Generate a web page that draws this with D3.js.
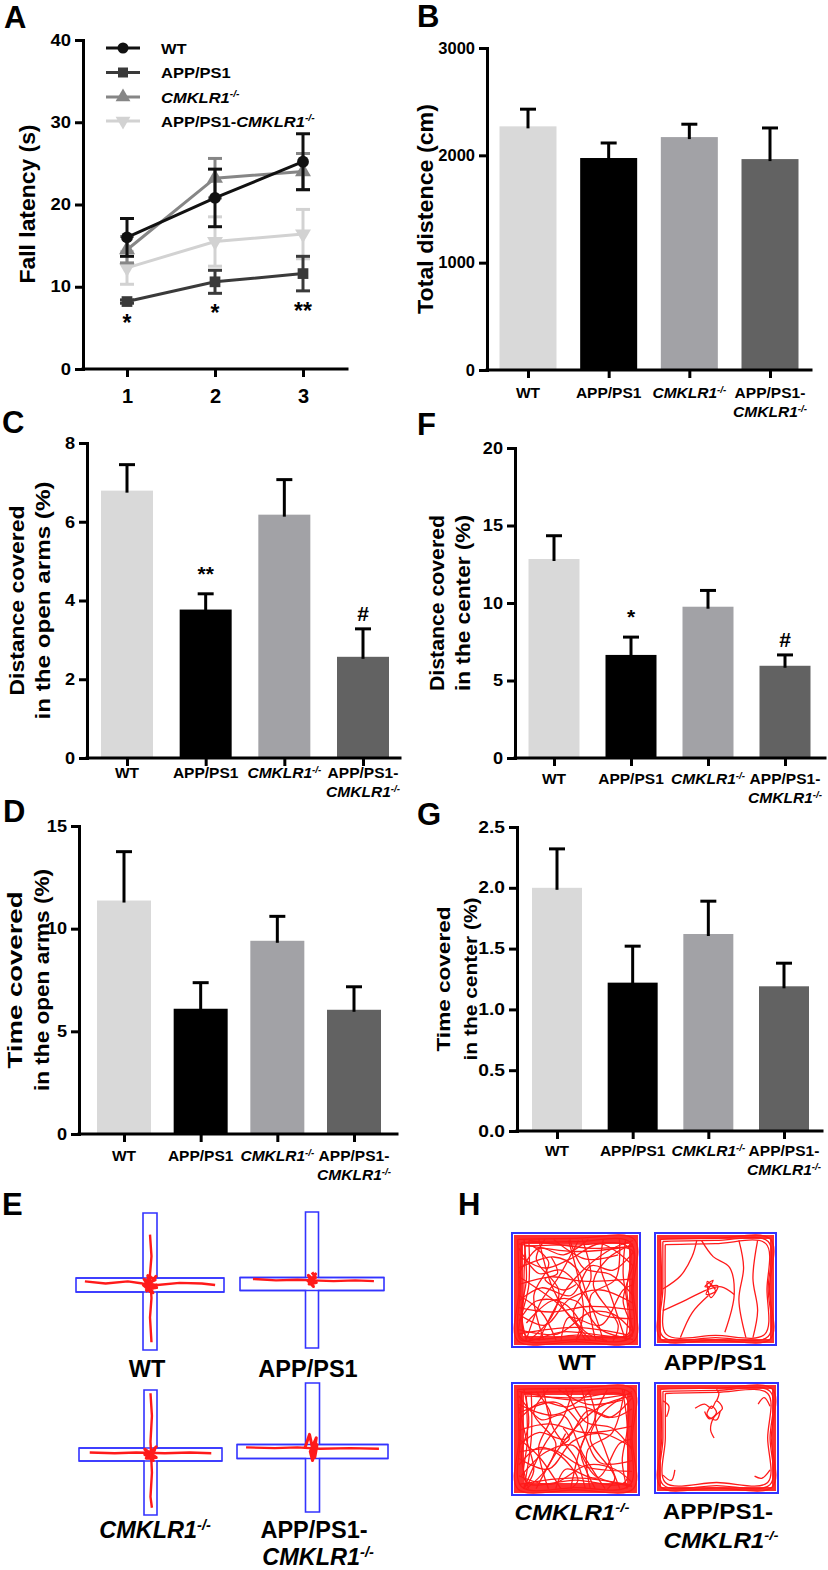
<!DOCTYPE html>
<html><head><meta charset="utf-8">
<script src="https://cdn.jsdelivr.net/npm/d3@7"></script>
<style>
body{margin:0;background:#fff}
svg{display:block}
text{font-family:"Liberation Sans",Arial,Helvetica,sans-serif;font-weight:bold;fill:#000}
</style>
</head><body>
<svg id="fig" width="828" height="1570"></svg>
<script>
// ---------------- DATA ----------------
const groups = ["WT", "APP/PS1", "CMKLR1", "APP/PS1-CMKLR1"];
const days = [1, 2, 3];

// A: rotarod fall latency (s)
const fallWT = [16.0, 20.8, 25.2];
const fallWTErr = [2.3, 3.5, 3.4];
const fallAPP = [8.2, 10.6, 11.6];
const fallAPPErr = [0.2, 1.4, 2.1];
const fallCMK = [14.5, 23.2, 24.0];
const fallCMKErr = [1.6, 2.4, 2.2];
const fallDKO = [12.3, 15.5, 16.4];
const fallDKOErr = [2.0, 3.0, 3.0];
const fallSig = ["*", "*", "**"];
const fallTicks = [0, 10, 20, 30, 40];

// B: total distance (cm)
const totalDist = [2270, 1975, 2170, 1965];
const totalDistErr = [160, 140, 120, 290];
const totalDistTicks = [0, 1000, 2000, 3000];

// C: distance covered in open arms (%)
const distOpen = [6.79, 3.77, 6.18, 2.57];
const distOpenErr = [0.66, 0.40, 0.89, 0.71];
const distOpenSig = ["", "**", "", "#"];
const distOpenTicks = [0, 2, 4, 6, 8];

// F: distance covered in the center (%)
const distCenter = [12.84, 6.65, 9.76, 5.95];
const distCenterErr = [1.5, 1.15, 1.05, 0.7];
const distCenterSig = ["", "*", "", "#"];
const distCenterTicks = [0, 5, 10, 15, 20];

// D: time covered in open arms (%)
const timeOpen = [11.37, 6.1, 9.41, 6.05];
const timeOpenErr = [2.38, 1.27, 1.19, 1.12];
const timeOpenTicks = [0, 5, 10, 15];

// G: time covered in the center (%)
const timeCenter = [2.0, 1.22, 1.62, 1.19];
const timeCenterErr = [0.32, 0.30, 0.27, 0.19];
const timeCenterTicks = [0, 0.5, 1.0, 1.5, 2.0, 2.5];

// E: elevated plus maze traces (normalized arm units)
const mazeWT = [
  [[-0.88,-0.05],[-0.6,-0.02],[-0.3,-0.05],[-0.1,-0.02],[0.1,0.0],[0.4,-0.03],[0.7,-0.02],[0.88,0.0]],
  [[0.0,-0.7],[0.02,-0.4],[0.0,-0.15],[0.02,0.2],[0.0,0.5],[0.02,0.88]],
  [[0,-0.02],[0.08,-0.12],[-0.05,0.06],[0.09,0.04],[-0.08,-0.08],[0.04,0.12],[-0.09,0.0],[0.07,-0.07],[-0.03,-0.13],[0.0,0.1],[0.09,0.0],[-0.06,0.1]]
];
const mazeAPP = [
  [[-0.82,-0.07],[-0.5,-0.05],[-0.2,-0.06],[0.0,-0.05],[0.3,-0.04],[0.6,-0.05],[0.86,-0.04]],
  [[0.0,-0.06],[0.05,-0.14],[-0.04,0.0],[0.06,-0.02],[-0.05,-0.12],[0.02,0.04],[-0.06,-0.05],[0.05,-0.09],[0.0,-0.16]]
];
const mazeCMK = [
  [[-0.85,-0.03],[-0.5,-0.02],[-0.2,-0.03],[0.2,-0.02],[0.55,-0.03],[0.85,-0.02]],
  [[0.0,-0.95],[0.02,-0.6],[0.0,-0.2],[0.02,0.3],[0.0,0.7],[0.02,0.88]],
  [[0,-0.03],[0.08,-0.12],[-0.06,0.06],[0.08,0.05],[-0.08,-0.08],[0.04,0.1],[-0.08,0.0],[0.06,-0.08],[0.0,0.08]]
];
const mazeDKO = [
  [[-0.88,-0.06],[-0.5,-0.05],[-0.2,-0.06],[0.1,-0.04],[0.5,-0.05],[0.88,-0.04]],
  [[-0.1,-0.05],[-0.04,-0.25],[0.0,-0.05],[0.03,0.1],[0.06,-0.1],[0.0,0.15],[-0.03,0.0],[0.05,-0.2],[0.02,0.05]]
];

// H: open field traces (normalized box units)
const fieldWT = [
  [[.03,.04],[.5,.03],[.97,.04],[.96,.5],[.97,.96],[.5,.97],[.03,.96],[.04,.5],[.03,.04]],
  [[.06,.07],[.5,.06],[.94,.07],[.95,.5],[.94,.93],[.5,.95],[.06,.94],[.05,.5],[.06,.07]],
  [[.09,.1],[.5,.09],[.92,.11],[.91,.5],[.92,.9],[.5,.91],[.1,.92],[.08,.5],[.09,.1]],
  [[.12,.05],[.6,.12],[.96,.15],[.88,.6],[.95,.9],[.4,.88],[.05,.95],[.12,.45],[.12,.05]],
  [[.05,.2],[.25,.3],[.45,.22],[.7,.08],[.96,.28]],
  [[.1,.95],[.22,.6],[.35,.4],[.52,.05]],
  [[.2,.04],[.3,.45],[.42,.7],[.62,.96]],
  [[.96,.62],[.7,.5],[.45,.58],[.25,.82],[.04,.72]],
  [[.04,.45],[.3,.38],[.55,.42],[.96,.4]],
  [[.5,.96],[.56,.7],[.52,.4],[.44,.05]],
  [[.04,.86],[.35,.9],[.62,.7],[.8,.72],[.96,.88]],
  [[.72,.04],[.7,.3],[.78,.55],[.9,.96]],
  [[.15,.1],[.28,.25],[.16,.55],[.24,.95]],
  [[.96,.16],[.8,.32],[.62,.28],[.46,.55],[.22,.48],[.04,.6]],
  [[.32,.04],[.58,.22],[.84,.18]],
  [[.04,.3],[.32,.2],[.5,.3],[.66,.7],[.96,.76]],
  [[.38,.96],[.44,.75],[.7,.82],[.88,.5],[.96,.45]],
  [[.04,.55],[.22,.7],[.34,.96]],
  [[.6,.04],[.4,.18],[.2,.12],[.04,.35]],
  [[.85,.04],[.82,.4],[.62,.55],[.66,.96]],
  [[.04,.12],[.2,.35],[.38,.32],[.6,.6],[.72,.96]],
  [[.96,.08],[.75,.22],[.64,.45],[.84,.82],[.8,.96]],
  [[.04,.78],[.18,.6],[.4,.62],[.55,.85],[.5,.96]],
  [[.25,.04],[.18,.22],[.36,.5],[.3,.75],[.12,.96]],
  [[.45,.04],[.56,.3],[.78,.36],[.96,.55]],
  [[.96,.95],[.7,.86],[.5,.6],[.3,.6],[.1,.8]],
  [[.04,.66],[.3,.7],[.6,.65],[.96,.68]],
  [[.55,.04],[.62,.4],[.48,.7],[.58,.96]],
  [[.08,.04],[.1,.4],[.06,.7],[.1,.96]],
  [[.9,.04],[.88,.35],[.92,.7],[.9,.96]],
  [[.04,.9],[.5,.84],[.96,.92]],
  [[.04,.08],[.5,.15],[.96,.1]],
  [[.2,.96],[.45,.45],[.75,.15],[.96,.05]],
  [[.04,.38],[.35,.62],[.6,.9],[.75,.96]],
  [[.3,.2],[.35,.35],[.25,.4],[.4,.5],[.5,.45]]
];
const fieldCMK = [
  [[.03,.04],[.5,.03],[.97,.04],[.96,.5],[.97,.96],[.5,.97],[.03,.96],[.04,.5],[.03,.04]],
  [[.06,.07],[.5,.06],[.94,.07],[.95,.5],[.94,.93],[.5,.95],[.06,.94],[.05,.5],[.06,.07]],
  [[.1,.1],[.5,.12],[.9,.1],[.92,.5],[.9,.9],[.5,.88],[.1,.9],[.11,.5],[.1,.1]],
  [[.14,.06],[.14,.5],[.08,.96]],
  [[.04,.18],[.3,.28],[.55,.2],[.8,.3],[.96,.22]],
  [[.08,.96],[.25,.55],[.4,.3],[.48,.04]],
  [[.24,.04],[.32,.4],[.5,.68],[.58,.96]],
  [[.96,.58],[.72,.45],[.48,.52],[.28,.78],[.04,.68]],
  [[.04,.42],[.28,.36],[.58,.44],[.96,.38]],
  [[.46,.96],[.52,.66],[.6,.36],[.55,.04]],
  [[.04,.84],[.3,.92],[.6,.74],[.82,.78],[.96,.9]],
  [[.76,.04],[.66,.32],[.74,.6],[.86,.96]],
  [[.18,.06],[.3,.28],[.2,.58],[.28,.96]],
  [[.96,.12],[.78,.3],[.6,.24],[.42,.5],[.2,.44],[.04,.56]],
  [[.36,.04],[.6,.18],[.88,.14]],
  [[.04,.26],[.34,.16],[.52,.34],[.7,.72],[.96,.7]],
  [[.34,.96],[.42,.78],[.68,.86],[.86,.54],[.96,.5]],
  [[.04,.5],[.2,.66],[.38,.96]],
  [[.64,.04],[.44,.2],[.22,.16],[.04,.32]],
  [[.9,.04],[.8,.44],[.6,.6],[.62,.96]],
  [[.04,.1],[.22,.32],[.4,.28],[.56,.64],[.74,.96]],
  [[.96,.06],[.72,.26],[.62,.5],[.82,.86],[.76,.96]],
  [[.04,.74],[.2,.58],[.36,.64],[.52,.88],[.46,.96]],
  [[.28,.04],[.16,.26],[.34,.54],[.26,.78],[.1,.96]],
  [[.42,.04],[.58,.34],[.8,.4],[.96,.6]],
  [[.96,.94],[.66,.84],[.48,.56],[.26,.62],[.06,.84]],
  [[.4,.4],[.45,.5],[.38,.55],[.42,.45]],
  [[.08,.04],[.12,.35],[.06,.65],[.12,.96]],
  [[.04,.2],[.1,.5],[.16,.8],[.08,.96]],
  [[.88,.04],[.92,.4],[.88,.7],[.92,.96]],
  [[.04,.92],[.5,.86],[.96,.93]],
  [[.04,.06],[.5,.14],[.96,.08]],
  [[.04,.62],[.32,.6],[.55,.75],[.96,.8]],
  [[.18,.96],[.42,.5],[.7,.2],[.96,.1]],
  [[.6,.04],[.66,.3],[.54,.6],[.66,.96]]
];
const fieldAPP = [
  [[.03,.04],[.5,.03],[.97,.04],[.96,.5],[.97,.96],[.5,.97],[.03,.96],[.04,.5],[.03,.04]],
  [[.05,.06],[.5,.05],[.95,.06],[.95,.5],[.95,.94],[.5,.95],[.05,.94],[.05,.5],[.05,.06]],
  [[.07,.09],[.5,.08],[.93,.08],[.94,.5],[.92,.92],[.5,.93],[.08,.92],[.07,.5],[.07,.09]],
  [[.38,.05],[.48,.2],[.62,.3],[.66,.55],[.58,.9]],
  [[.7,.05],[.74,.3],[.7,.6],[.76,.95]],
  [[.05,.5],[.2,.38],[.3,.2],[.34,.05]],
  [[.05,.7],[.25,.6],[.4,.52],[.45,.5]],
  [[.86,.05],[.82,.4],[.86,.7],[.82,.95]],
  [[.45,.5],[.55,.48],[.66,.55]],
  [[.2,.95],[.3,.72],[.44,.56]],
  [[.45,.45],[.5,.52],[.42,.55],[.48,.42],[.41,.48],[.52,.47],[.46,.58],[.43,.43],[.5,.5]]
];
const fieldDKO = [
  [[.03,.04],[.5,.03],[.97,.04],[.96,.5],[.97,.96],[.5,.97],[.03,.96],[.04,.5],[.03,.04]],
  [[.05,.06],[.5,.05],[.95,.06],[.95,.5],[.95,.94],[.5,.95],[.05,.94],[.05,.5],[.05,.06]],
  [[.07,.08],[.5,.07],[.93,.08],[.93,.5],[.93,.92],[.5,.92],[.07,.92],[.07,.5],[.07,.08]],
  [[.32,.22],[.4,.18],[.46,.22],[.5,.15],[.55,.22],[.48,.3],[.45,.42],[.48,.5]],
  [[.4,.25],[.44,.32],[.5,.26],[.46,.2],[.42,.28],[.5,.33],[.53,.25]],
  [[.5,.15],[.52,.08],[.5,.04]],
  [[.05,.85],[.12,.9],[.15,.8]],
  [[.95,.8],[.88,.88],[.82,.86]],
  [[.95,.2],[.9,.12],[.85,.18]],
  [[.05,.15],[.1,.2],[.08,.3]]
];

// ---------------- STYLE / LAYOUT ----------------
const lineColors = ["#111111", "#3a3a3a", "#868686", "#d2d2d2"];
const barColors = ["#d9d9d9", "#000000", "#a2a2a6", "#626262"];
const symbols = [d3.symbolCircle, d3.symbolSquare, d3.symbolTriangle, d3.symbolTriangle];
const blue = "#3333ff", red = "#ff1a1a";

const svg = d3.select("#fig");

function stretch(sel, sx) {
  if (!sx || sx === 1) return;
  sel.each(function () {
    const w = this.getComputedTextLength();
    d3.select(this).attr("textLength", w * sx).attr("lengthAdjust", "spacingAndGlyphs");
  });
}
function addText(g, x, y, parts, o = {}) {
  const t = g.append("text").attr("x", x).attr("y", y)
    .attr("font-size", o.size || 14)
    .attr("text-anchor", o.anchor || "middle");
  parts.forEach(p => {
    const ts = t.append("tspan").text(p.t);
    if (p.italic) ts.attr("font-style", "italic");
    if (p.sup) ts.attr("font-size", "0.62em").attr("dy", "-0.55em");
  });
  if (o.sx) stretch(t, o.sx);
  return t;
}
const sup = [{t: "CMKLR1", italic: true}, {t: "-/-", italic: true, sup: true}];
const groupLines = {
  "WT": [[{t: "WT"}]],
  "APP/PS1": [[{t: "APP/PS1"}]],
  "CMKLR1": [sup],
  "APP/PS1-CMKLR1": [[{t: "APP/PS1-"}], sup]
};

function panelLetter(letter, x, y) {
  svg.append("text").attr("x", x).attr("y", y).attr("font-size", 31).text(letter);
}
function yLabel(g, lines, xs, cy, size, lens) {
  lines.forEach((s, i) => {
    const t = g.append("text")
      .attr("transform", `translate(${xs[i]},${cy}) rotate(-90)`)
      .attr("text-anchor", "middle").attr("dy", "0.35em")
      .attr("font-size", size).text(s);
    if (lens && lens[i]) t.attr("textLength", lens[i]).attr("lengthAdjust", "spacingAndGlyphs");
  });
}
function styleAxis(ax, size) {
  ax.attr("font-family", null).attr("font-size", size);
  ax.selectAll("path.domain").attr("stroke", "#000").attr("stroke-width", 3).attr("stroke-linecap", "square");
  ax.selectAll(".tick line").attr("stroke", "#000").attr("stroke-width", 3);
  ax.selectAll(".tick text").attr("fill", "#000");
}

// ---------------- PANEL A (line chart) ----------------
(function () {
  const g = svg.append("g");
  const x = d3.scaleLinear().domain([0.5, 3.5]).range([83, 347]);
  const y = d3.scaleLinear().domain([0, 40]).range([369, 40]);
  const ya = g.append("g").attr("transform", "translate(83,0)")
    .call(d3.axisLeft(y).tickValues(fallTicks).tickSize(8).tickPadding(4).tickSizeOuter(0));
  styleAxis(ya, 16); stretch(ya.selectAll(".tick text"), 1.15);
  const xa = g.append("g").attr("transform", "translate(0,369)")
    .call(d3.axisBottom(x).tickValues(days).tickSize(8).tickPadding(12).tickSizeOuter(0).tickFormat(d3.format("d")));
  styleAxis(xa, 20);
  xa.select("path.domain").attr("d", "M0,0H" + (347 - 83)).attr("transform", "translate(83,0)");

  const series = [
    {v: fallDKO, e: fallDKOErr, c: 3},
    {v: fallCMK, e: fallCMKErr, c: 2},
    {v: fallAPP, e: fallAPPErr, c: 1},
    {v: fallWT, e: fallWTErr, c: 0}
  ];
  const line = d3.line().x((d, i) => x(days[i])).y(d => y(d));
  series.forEach(s => {
    const col = lineColors[s.c];
    const sg = g.append("g");
    sg.append("path").attr("d", line(s.v)).attr("fill", "none").attr("stroke", col).attr("stroke-width", 3);
    s.v.forEach((v, i) => {
      const cx = x(days[i]);
      sg.append("line").attr("x1", cx).attr("x2", cx).attr("y1", y(v - s.e[i])).attr("y2", y(v + s.e[i]))
        .attr("stroke", col).attr("stroke-width", 3);
      [v - s.e[i], v + s.e[i]].forEach(w => sg.append("line").attr("x1", cx - 7).attr("x2", cx + 7)
        .attr("y1", y(w)).attr("y2", y(w)).attr("stroke", col).attr("stroke-width", 3));
      const sym = d3.symbol().type(symbols[s.c]).size(s.c === 1 ? 115 : 110);
      sg.append("path").attr("d", sym())
        .attr("transform", `translate(${cx},${y(v)})${s.c === 3 ? " rotate(180)" : ""}`).attr("fill", col);
    });
  });
  // significance marks under the APP/PS1 error bars
  fallSig.forEach((s, i) => addText(g, x(days[i]), y(fallAPP[i] - fallAPPErr[i]) + 28, [{t: s}], {size: 23}));

  // legend
  const rows = [48, 72.5, 97, 121];
  const legendLabels = [
    [{t: "WT"}], [{t: "APP/PS1"}], sup, [{t: "APP/PS1-"}].concat(sup)
  ];
  rows.forEach((ry, i) => {
    const col = lineColors[i];
    g.append("line").attr("x1", 106).attr("x2", 140).attr("y1", ry).attr("y2", ry).attr("stroke", col).attr("stroke-width", 3);
    g.append("path").attr("d", d3.symbol().type(symbols[i]).size(i === 1 ? 100 : 95)())
      .attr("transform", `translate(123,${ry})${i === 3 ? " rotate(180)" : ""}`).attr("fill", col);
    addText(g, 161, ry + 5.5, legendLabels[i], {size: 15, anchor: "start", sx: 1.1});
  });
  yLabel(g, ["Fall latency (s)"], [27], 204, 22, [159]);
})();

// ---------------- BAR PANELS ----------------
function barPanel(c) {
  const g = svg.append("g");
  const y = d3.scaleLinear().domain([0, c.max]).range([c.yBot, c.yTop]);
  const x = d3.scalePoint().domain(groups).range([c.c0, c.c3]);
  g.selectAll("rect.bar").data(groups).join("rect").attr("class", "bar")
    .attr("x", d => x(d) - c.bw / 2).attr("width", c.bw)
    .attr("y", (d, i) => y(c.values[i])).attr("height", (d, i) => c.yBot - y(c.values[i]))
    .attr("fill", (d, i) => barColors[i]);
  groups.forEach((d, i) => {
    const cx = x(d), v = c.values[i], e = c.errors[i];
    g.append("line").attr("x1", cx).attr("x2", cx).attr("y1", y(v) + 2).attr("y2", y(v + e))
      .attr("stroke", "#000").attr("stroke-width", 3);
    g.append("line").attr("x1", cx - 8).attr("x2", cx + 8).attr("y1", y(v + e)).attr("y2", y(v + e))
      .attr("stroke", "#000").attr("stroke-width", 3);
    if (c.sig && c.sig[i]) {
      const s = c.sig[i];
      const off = s === "#" ? 8 : 13;
      addText(g, cx, y(v + e) - off, [{t: s}], {size: 21});
    }
  });
  const ya = g.append("g").attr("transform", `translate(${c.axisX},0)`)
    .call(d3.axisLeft(y).tickValues(c.ticks).tickSize(8).tickPadding(4).tickSizeOuter(0).tickFormat(c.fmt));
  styleAxis(ya, c.tickSize); stretch(ya.selectAll(".tick text"), c.tickSx);
  const xa = g.append("g").attr("transform", `translate(0,${c.yBot})`)
    .call(d3.axisBottom(x).tickSize(8).tickSizeOuter(0).tickFormat(""));
  styleAxis(xa, 14);
  xa.select("path.domain").attr("d", `M${c.axisX},0H${c.axisRight}`);
  groups.forEach(d => {
    groupLines[d].forEach((parts, li) => {
      addText(g, x(d), c.yBot + c.labDy + li * 19, parts, {size: 14.5, sx: 1.07});
    });
  });
  yLabel(g, c.ylab, c.ylabX, (c.yTop + c.yBot) / 2, c.ylabSize, c.ylabLen);
}

barPanel({values: totalDist, errors: totalDistErr, ticks: totalDistTicks, fmt: d3.format("d"), max: 3000,
  axisX: 487, axisRight: 811, yTop: 48, yBot: 370, c0: 528, c3: 770, bw: 57,
  tickSize: 16.5, tickSx: 1.0, labDy: 28,
  ylab: ["Total distence (cm)"], ylabX: [425], ylabSize: 22, ylabLen: [210]});

barPanel({values: distOpen, errors: distOpenErr, sig: distOpenSig, ticks: distOpenTicks, fmt: d3.format("d"), max: 8,
  axisX: 87, axisRight: 400, yTop: 443, yBot: 758, c0: 127, c3: 363, bw: 52,
  tickSize: 16.5, tickSx: 1.1, labDy: 20,
  ylab: ["Distance covered", "in the open arms (%)"], ylabX: [17, 43], ylabSize: 21, ylabLen: [190, 238]});

barPanel({values: distCenter, errors: distCenterErr, sig: distCenterSig, ticks: distCenterTicks, fmt: d3.format("d"), max: 20,
  axisX: 515, axisRight: 825, yTop: 448, yBot: 758, c0: 554, c3: 785, bw: 51,
  tickSize: 16.5, tickSx: 1.1, labDy: 26,
  ylab: ["Distance covered", "in the center (%)"], ylabX: [437, 463], ylabSize: 20, ylabLen: [176, 176]});

barPanel({values: timeOpen, errors: timeOpenErr, ticks: timeOpenTicks, fmt: d3.format("d"), max: 15,
  axisX: 79, axisRight: 397, yTop: 826, yBot: 1134, c0: 124, c3: 354, bw: 54,
  tickSize: 16.5, tickSx: 1.1, labDy: 27,
  ylab: ["Time covered", "in the open arms (%)"], ylabX: [15, 42], ylabSize: 21, ylabLen: [177, 222]});

barPanel({values: timeCenter, errors: timeCenterErr, ticks: timeCenterTicks, fmt: d3.format(".1f"), max: 2.5,
  axisX: 517, axisRight: 822, yTop: 827, yBot: 1131, c0: 557, c3: 784, bw: 50,
  tickSize: 16, tickSx: 1.2, labDy: 25,
  ylab: ["Time covered", "in the center (%)"], ylabX: [443, 470], ylabSize: 19, ylabLen: [145, 163]});

// ---------------- PANEL E (plus maze) ----------------
const crossLayouts = [
  {traces: mazeWT, cx: 150, cy: 1285, halfL: 74, up: 72, down: 65, hw: 7},
  {traces: mazeAPP, cx: 312, cy: 1284, halfL: 72, up: 72, down: 64, hw: 6.5},
  {traces: mazeCMK, cx: 150.5, cy: 1454.5, halfL: 71.5, up: 64.5, down: 60.5, hw: 6.5},
  {traces: mazeDKO, cx: 312.5, cy: 1451.5, halfL: 75.5, up: 68.5, down: 60.5, hw: 7}
];
crossLayouts.forEach(L => {
  const g = svg.append("g");
  const xs = d3.scaleLinear().domain([-1, 1]).range([L.cx - L.halfL, L.cx + L.halfL]);
  const ys = d3.scaleLinear().domain([-1, 0, 1]).range([L.cy - L.up, L.cy, L.cy + L.down]);
  const hx = L.hw;
  const outline = `M${xs(-1)},${L.cy - hx}H${L.cx - hx}V${ys(-1)}H${L.cx + hx}V${L.cy - hx}H${xs(1)}V${L.cy + hx}H${L.cx + hx}V${ys(1)}H${L.cx - hx}V${L.cy + hx}H${xs(-1)}Z`;
  g.append("path").attr("d", outline).attr("fill", "none").attr("stroke", blue).attr("stroke-width", 1.6);
  g.append("line").attr("x1", xs(-1)).attr("x2", xs(1)).attr("y1", L.cy - hx).attr("y2", L.cy - hx).attr("stroke", blue).attr("stroke-width", 1.6);
  g.append("line").attr("x1", xs(-1)).attr("x2", xs(1)).attr("y1", L.cy + hx).attr("y2", L.cy + hx).attr("stroke", blue).attr("stroke-width", 1.6);
  const ln = d3.line().x(d => xs(d[0])).y(d => ys(d[1]));
  L.traces.forEach((t, i) => g.append("path").attr("d", ln(t)).attr("fill", "none")
    .attr("stroke", red).attr("stroke-width", t.length > 8 && i === L.traces.length - 1 ? 3 : 2.4).attr("stroke-linejoin", "round"));
});
const eLabels = [
  {x: 147, y: 1377, parts: [{t: "WT"}]},
  {x: 308, y: 1377, parts: [{t: "APP/PS1"}]},
  {x: 155, y: 1538, parts: sup},
  {x: 314, y: 1538, parts: [{t: "APP/PS1-"}]},
  {x: 318, y: 1565, parts: sup}
];
eLabels.forEach(l => addText(svg, l.x, l.y, l.parts, {size: 23.5}));

// ---------------- PANEL H (open field) ----------------
const boxLayouts = [
  {traces: fieldWT, x0: 512, x1: 640, y0: 1233, y1: 1347, band: 9},
  {traces: fieldAPP, x0: 655, x1: 776, y0: 1233, y1: 1345, band: 4},
  {traces: fieldCMK, x0: 512, x1: 639, y0: 1383, y1: 1495, band: 10},
  {traces: fieldDKO, x0: 655, x1: 778, y0: 1383, y1: 1493, band: 4}
];
boxLayouts.forEach(B => {
  const g = svg.append("g");
  const xs = d3.scaleLinear().domain([0, 1]).range([B.x0 + 2, B.x1 - 2]);
  const ys = d3.scaleLinear().domain([0, 1]).range([B.y0 + 2, B.y1 - 2]);
  g.append("rect").attr("x", xs(0) + B.band / 2).attr("y", ys(0) + B.band / 2)
    .attr("width", xs(1) - xs(0) - B.band).attr("height", ys(1) - ys(0) - B.band)
    .attr("fill", "none").attr("stroke", red).attr("stroke-width", B.band).attr("stroke-opacity", 0.9);
  const ln = d3.line().x(d => xs(d[0])).y(d => ys(d[1])).curve(d3.curveCatmullRom);
  B.traces.forEach(t => g.append("path").attr("d", ln(t)).attr("fill", "none")
    .attr("stroke", red).attr("stroke-width", 1.3));
  g.append("rect").attr("x", B.x0).attr("y", B.y0).attr("width", B.x1 - B.x0).attr("height", B.y1 - B.y0)
    .attr("fill", "none").attr("stroke", blue).attr("stroke-width", 2);
});
const hLabels = [
  {x: 577, y: 1370, parts: [{t: "WT"}]},
  {x: 715, y: 1370, parts: [{t: "APP/PS1"}]},
  {x: 572, y: 1520, parts: sup},
  {x: 718, y: 1519, parts: [{t: "APP/PS1-"}]},
  {x: 721, y: 1548, parts: sup}
];
hLabels.forEach(l => addText(svg, l.x, l.y, l.parts, {size: 22, sx: 1.1}));

// ---------------- PANEL LETTERS ----------------
panelLetter("A", 4, 28);
panelLetter("B", 417, 27);
panelLetter("C", 2, 433);
panelLetter("F", 417, 435);
panelLetter("D", 3, 822);
panelLetter("G", 417, 825);
panelLetter("E", 2, 1215);
panelLetter("H", 458, 1215);
</script>
</body></html>
